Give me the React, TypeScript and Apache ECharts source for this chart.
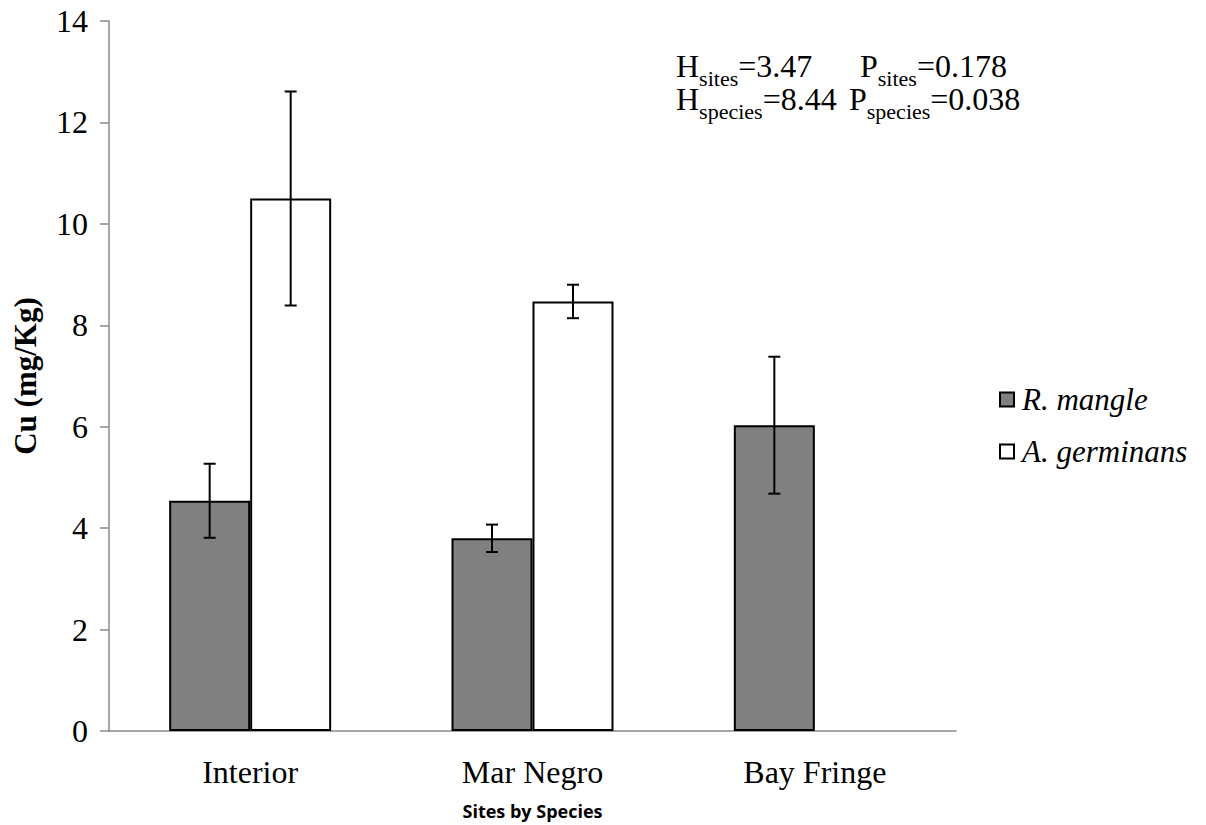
import React, { useEffect, useRef } from "react";
import * as echarts from "echarts";

const categories = ["Interior", "Mar Negro", "Bay Fringe"];
const seriesNames = ["R. mangle", "A. germinans"];
const rMangle = [4.54, 3.8, 6.03];
const aGerminans: (number | null)[] = [10.5, 8.47, null];
const rMangleErr = [0.73, 0.27, 1.35];
const aGerminansErr: (number | null)[] = [2.11, 0.33, null];
const yTicks = { min: 0, max: 14, interval: 2 };
const yAxisTitle = "Cu (mg/Kg)";
const xAxisTitle = "Sites by Species";

const SERIF = "'Liberation Serif', 'Times New Roman', serif";
const BAR_W = 81;

export default function App() {
  const ref = useRef<HTMLDivElement>(null);
  useEffect(() => {
    if (!ref.current) return;
    const chart = echarts.init(ref.current, undefined, { renderer: "svg" });

    const errData = (vals: (number | null)[], errs: (number | null)[], sign: number) =>
      vals
        .map((v, i) => (v == null || errs[i] == null ? null : [i, v - (errs[i] as number), v + (errs[i] as number), sign]))
        .filter((d) => d !== null);

    const errSeries = (name: string, data: any[]) => ({
      type: "custom",
      name: name + " err",
      z: 10,
      silent: true,
      encode: { x: 0, y: [1, 2] },
      data,
      renderItem: (params: any, api: any) => {
        const idx = api.value(0);
        const sign = api.value(3);
        const lo = api.coord([idx, api.value(1)]);
        const hi = api.coord([idx, api.value(2)]);
        const x = lo[0] + (sign * BAR_W) / 2;
        const cap = 6;
        const st = { stroke: "#000", lineWidth: 2 };
        return {
          type: "group",
          children: [
            { type: "line", shape: { x1: x, y1: lo[1], x2: x, y2: hi[1] }, style: st },
            { type: "line", shape: { x1: x - cap, y1: hi[1], x2: x + cap, y2: hi[1] }, style: st },
            { type: "line", shape: { x1: x - cap, y1: lo[1], x2: x + cap, y2: lo[1] }, style: st },
          ],
        };
      },
    });

    const rich = {
      m: { fontFamily: SERIF, fontSize: 32, color: "#000", lineHeight: 32, verticalAlign: "bottom" },
      s: { fontFamily: SERIF, fontSize: 22, color: "#000", lineHeight: 32, verticalAlign: "bottom", padding: [0, 0, -7, 0] },
    };

    chart.setOption({
      animation: false,
      backgroundColor: "#fff",
      grid: { left: 109, right: 250, top: 21, bottom: 94, containLabel: false, outerBoundsMode: "none" },
      legend: {
        orient: "vertical",
        left: 994,
        top: 379,
        itemWidth: 14,
        itemHeight: 14,
        itemGap: 21,
        icon: "rect",
        data: seriesNames,
        textStyle: { fontFamily: SERIF, fontSize: 31, fontStyle: "italic", color: "#000", padding: [0, 0, 0, 3] },
      },
      xAxis: {
        type: "category",
        data: categories,
        axisLine: { lineStyle: { color: "#8a8a8a", width: 1.5 } },
        axisTick: { lineStyle: { color: "#8a8a8a", width: 1.5 }, length: 9 },
        axisLabel: { fontFamily: SERIF, fontSize: 32, color: "#000", margin: 25 },
        name: xAxisTitle,
        nameLocation: "middle",
        nameGap: 71,
        nameTextStyle: { fontFamily: "'Open Sans', sans-serif", fontWeight: "bold", fontSize: 18, color: "#000" },
      },
      yAxis: {
        type: "value",
        min: yTicks.min,
        max: yTicks.max,
        interval: yTicks.interval,
        splitLine: { show: false },
        axisLine: { show: true, lineStyle: { color: "#8a8a8a", width: 1.5 } },
        axisTick: { show: true, lineStyle: { color: "#8a8a8a", width: 1.5 }, length: 9 },
        axisLabel: { fontFamily: SERIF, fontSize: 32, color: "#000", margin: 21 },
        name: yAxisTitle,
        nameLocation: "middle",
        nameGap: 68,
        nameTextStyle: { fontFamily: SERIF, fontWeight: "bold", fontSize: 31, color: "#000" },
      },
      series: [
        {
          name: seriesNames[0],
          type: "bar",
          barWidth: BAR_W,
          barGap: "0%",
          data: rMangle,
          itemStyle: { color: "#808080", borderColor: "#000", borderWidth: 2 },
        },
        {
          name: seriesNames[1],
          type: "bar",
          barWidth: BAR_W,
          barGap: "0%",
          data: aGerminans.map((v) => (v == null ? "-" : v)),
          itemStyle: { color: "#fff", borderColor: "#000", borderWidth: 2 },
        },
        errSeries(seriesNames[0], errData(rMangle, rMangleErr, -1)),
        errSeries(seriesNames[1], errData(aGerminans, aGerminansErr, 1)),
      ],
      graphic: [
        { type: "text", left: 676, top: 50, style: { text: "{m|H}{s|sites}{m|=3.47}", rich } },
        { type: "text", left: 860, top: 50, style: { text: "{m|P}{s|sites}{m|=0.178}", rich } },
        { type: "text", left: 676, top: 83, style: { text: "{m|H}{s|species}{m|=8.44}", rich } },
        { type: "text", left: 849, top: 83, style: { text: "{m|P}{s|species}{m|=0.038}", rich } },
      ],
    } as any);
    return () => chart.dispose();
  }, []);
  return <div ref={ref} style={{ width: 1206, height: 825, position: "absolute", left: 0, top: 0 }} />;
}
